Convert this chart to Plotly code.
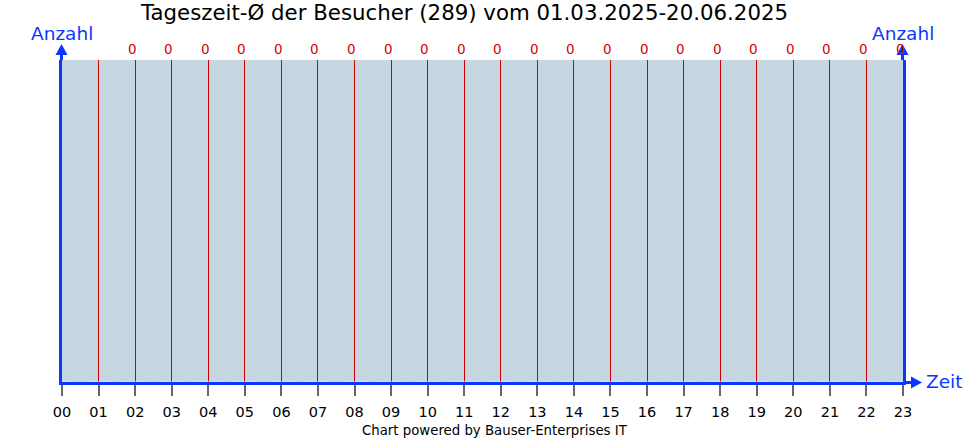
import plotly.graph_objects as go

# ---- data ----
hours = list(range(24))
hour_labels = [f"{h:02d}" for h in hours]
visitors = [0] * 24
label_hours = hours[2:]
label_values = visitors[2:]

title = "Tageszeit-Ø der Besucher (289) vom 01.03.2025-20.06.2025"
y_title = "Anzahl"
x_title = "Zeit"
footer = "Chart powered by Bauser-Enterprises IT"

# ---- layout constants ----
W, H = 970, 440
L, R, T, B = 62, 903, 60, 382
BLUE = "#0A37FF"
RED = "#D40000"
BG = "#C5D7E0"
FONT = "DejaVu Sans"


def px(xp):
    return (xp - L) / (R - L)


def py(yp):
    return (B - yp) / (B - T)


fig = go.Figure()

fig.add_trace(go.Bar(x=hours, y=visitors, marker_color=RED, showlegend=False,
                     hoverinfo="x+y"))

annotations = []
for h, v in zip(label_hours, label_values):
    annotations.append(dict(x=h, y=1, xref="x", yref="paper", text=str(v),
                            showarrow=False, yanchor="bottom", xshift=-3, yshift=1,
                            font=dict(family=FONT, size=13.5, color=RED)))

annotations += [
    dict(x=px(463.5), y=py(13), xref="paper", yref="paper", text=title, showarrow=False,
         font=dict(family=FONT, size=21.3, color="#000000"), xanchor="center", yanchor="middle"),
    dict(x=px(61.5), y=py(33), xref="paper", yref="paper", text=y_title, showarrow=False,
         font=dict(family=FONT, size=18.5, color=BLUE), xanchor="center", yanchor="middle"),
    dict(x=px(902.5), y=py(33), xref="paper", yref="paper", text=y_title, showarrow=False,
         font=dict(family=FONT, size=18.5, color=BLUE), xanchor="center", yanchor="middle"),
    dict(x=px(924), y=py(381), xref="paper", yref="paper", text=x_title, showarrow=False,
         font=dict(family=FONT, size=18.5, color=BLUE), xanchor="left", yanchor="middle"),
    dict(x=px(495), y=py(430), xref="paper", yref="paper", text=footer, showarrow=False,
         font=dict(family=FONT, size=13.3, color="#000000"), xanchor="center", yanchor="middle"),
]

shapes = [
    # axis extensions
    dict(type="line", xref="paper", yref="paper", x0=px(61.5), x1=px(61.5), y0=1, y1=py(54),
         line=dict(color=BLUE, width=3)),
    dict(type="line", xref="paper", yref="paper", x0=px(902.5), x1=px(902.5), y0=1, y1=py(54),
         line=dict(color=BLUE, width=3)),
    dict(type="line", xref="paper", yref="paper", x0=1, x1=px(912), y0=py(382.5), y1=py(382.5),
         line=dict(color=BLUE, width=3)),
    # arrow heads
    dict(type="path", xref="paper", yref="paper",
         path=f"M {px(55.5)} {py(55)} L {px(61.5)} {py(44)} L {px(67.5)} {py(55)} Z",
         fillcolor=BLUE, line=dict(width=0)),
    dict(type="path", xref="paper", yref="paper",
         path=f"M {px(896.5)} {py(55)} L {px(902.5)} {py(44)} L {px(908.5)} {py(55)} Z",
         fillcolor=BLUE, line=dict(width=0)),
    dict(type="path", xref="paper", yref="paper",
         path=f"M {px(911)} {py(376.5)} L {px(922)} {py(382.5)} L {px(911)} {py(388.5)} Z",
         fillcolor=BLUE, line=dict(width=0)),
]

fig.update_layout(
    width=W, height=H,
    margin=dict(l=L, r=W - R, t=T, b=H - B, pad=0),
    paper_bgcolor="white",
    plot_bgcolor=BG,
    font=dict(family=FONT, color="#000000"),
    showlegend=False,
    annotations=annotations,
    shapes=shapes,
    xaxis=dict(range=[0, 23], tickvals=hours, ticktext=hour_labels, showgrid=True,
               gridcolor=RED, gridwidth=1, zeroline=False, showline=True,
               linecolor=BLUE, linewidth=3, ticks="outside", ticklen=11, tickwidth=2,
               tickcolor="#666666", tickfont=dict(family=FONT, size=14.5, color="#000000"),
               ticklabelstandoff=4, fixedrange=True),
    yaxis=dict(range=[0, 1], showgrid=False, zeroline=False, showticklabels=False,
               showline=True, mirror=True, linecolor=BLUE, linewidth=3, ticks="",
               fixedrange=True),
)

fig.write_html("out.html", config={"displayModeBar": False},
               post_script="document.body.style.margin='0';document.body.style.overflow='hidden';")
